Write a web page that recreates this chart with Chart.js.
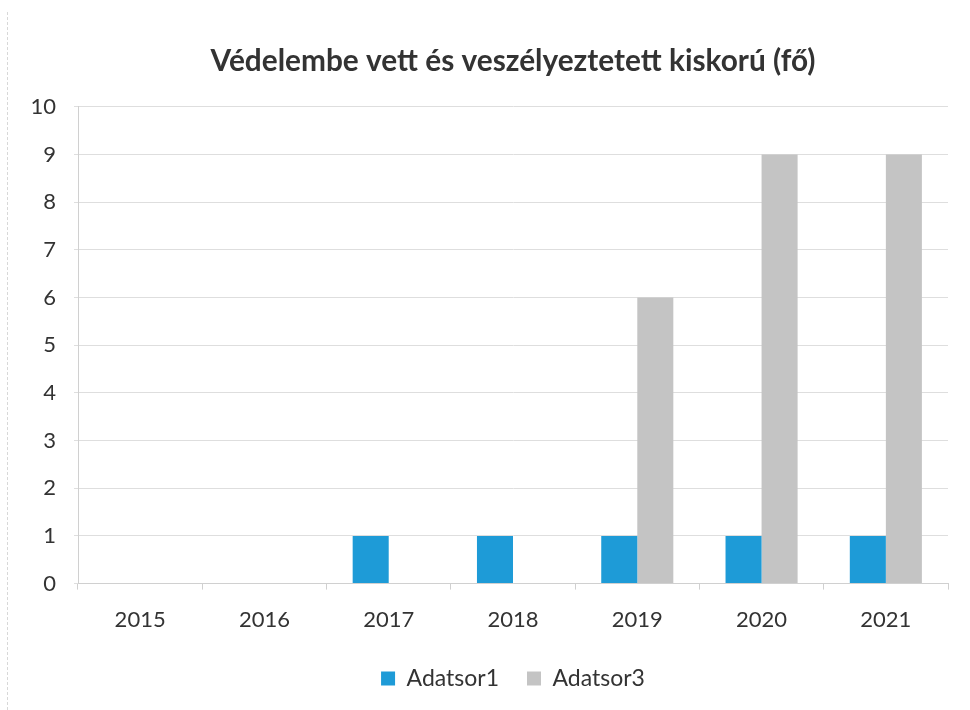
<!DOCTYPE html>
<html>
<head>
<meta charset="utf-8">
<script src="https://cdn.jsdelivr.net/npm/chart.js@4/dist/chart.umd.min.js"></script>
<style>
  html, body { margin: 0; padding: 0; background: #fff; }
  #wrap { width: 970px; height: 710px; position: relative; }
  #wrap::before { content: ''; position: absolute; left: 7px; top: 12px; bottom: 0; border-left: 1px dashed #d8d8d8; }
</style>
</head>
<body>
<div id="wrap"><canvas id="chart" width="970" height="710"></canvas></div>
<script>
/* Data */
const years = ['2015', '2016', '2017', '2018', '2019', '2020', '2021'];
const adatsor1 = [0, 0, 1, 1, 1, 1, 1];
const adatsor3 = [0, 0, 0, 0, 6, 9, 9];
const yTicks = [0, 1, 2, 3, 4, 5, 6, 7, 8, 9, 10];

const textColor = '#333333';
const font = 'Lato, "Open Sans", "Liberation Sans", sans-serif';

new Chart(document.getElementById('chart'), {
  type: 'bar',
  data: {
    labels: years,
    datasets: [
      { label: 'Adatsor1', data: adatsor1, backgroundColor: '#1E9BD7', categoryPercentage: 0.58, barPercentage: 1 },
      { label: 'Adatsor3', data: adatsor3, backgroundColor: '#C4C4C4', categoryPercentage: 0.58, barPercentage: 1 }
    ]
  },
  options: {
    responsive: false,
    animation: false,
    layout: { padding: { left: 0, right: 22, top: 44, bottom: 10 } },
    plugins: {
      title: {
        display: true,
        fullSize: false,
        text: 'Védelembe vett és veszélyeztetett kiskorú (fő)',
        color: textColor,
        font: { family: font, size: 29.8, weight: 'bold' },
        padding: { top: 0, bottom: 27 }
      },
      legend: {
        position: 'bottom',
        fullSize: false,
        labels: {
          color: textColor,
          font: { family: font, size: 23 },
          boxWidth: 14, boxHeight: 14, padding: 28
        }
      },
      tooltip: { enabled: false }
    },
    scales: {
      x: {
        afterFit: s => { s.height -= 11; },
        grid: { drawOnChartArea: false, color: '#d0d0d0', tickLength: 6 },
        border: { color: '#d0d0d0' },
        ticks: { color: textColor, font: { family: font, size: 22 }, padding: 17 }
      },
      y: {
        min: 0, max: 10,
        afterBuildTicks: s => { s.ticks = yTicks.map(v => ({ value: v })); },
        afterFit: s => { s.width = 78; },
        grid: { color: '#dedede', tickLength: 4 },
        border: { color: '#d0d0d0' },
        ticks: { color: textColor, font: { family: font, size: 22 }, padding: 18 }
      }
    }
  }
});
</script>
</body>
</html>
